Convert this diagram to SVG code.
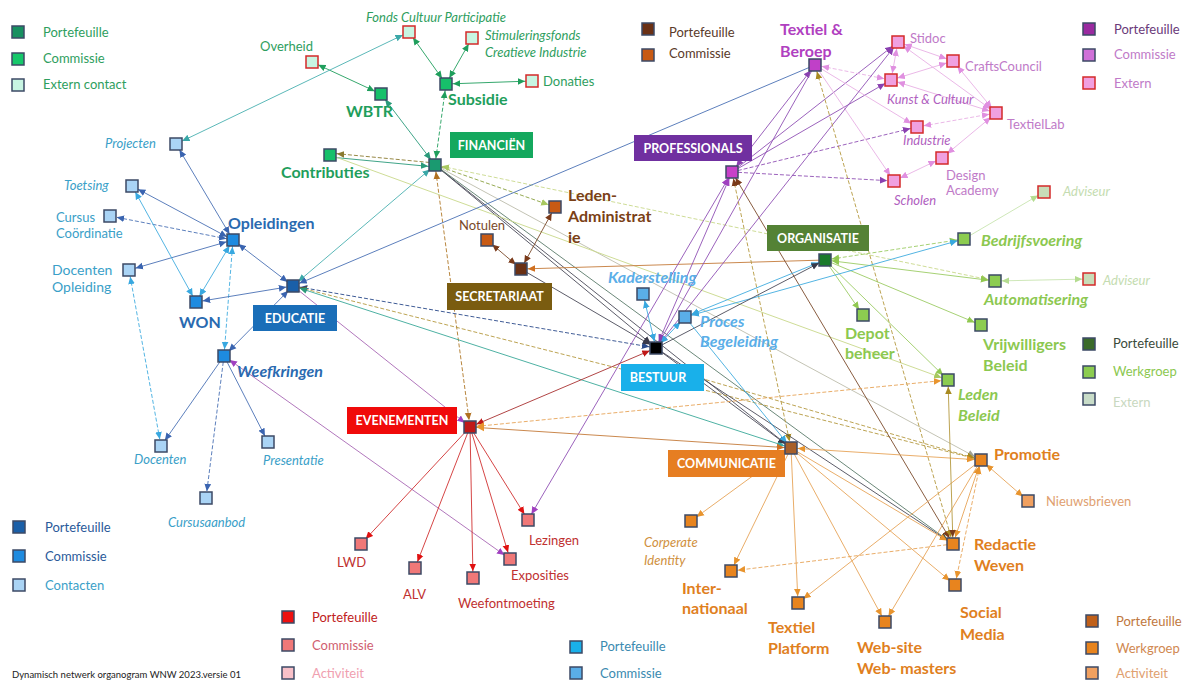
<svg xmlns="http://www.w3.org/2000/svg" width="1187" height="681" viewBox="0 0 1187 681">
<style>
text{font-family:Lato,"Liberation Sans",sans-serif}
.sq{stroke:#3c4a66;stroke-width:1.5}
.ex{stroke:#d42a2a;stroke-width:1.5}
.bt{font-weight:700;font-size:12.5px;fill:#fff;text-anchor:middle}
.lt{font-size:13px}
.b16{font-weight:700;font-size:16px}
.bi16{font-weight:700;font-style:italic;font-size:16px}
.r13{font-size:13px}
.i13{font-style:italic;font-size:13px}
.r14{font-size:14px}
#connectors line{fill:none;stroke-width:0.9}
.d{stroke-dasharray:4 2}
.g{stroke:#1f9e5c}.tg{stroke:#2a9a7a}.ol{stroke:#8a7a30}.yg{stroke:#c8d88a}.yg2{stroke:#8aa040}
.dk{stroke:#4a4a58}.br{stroke:#b07828}.tl{stroke:#48b0b0}.bl{stroke:#4a70b4}.lb{stroke:#40acdf}
.db{stroke:#2a4a8a}.pu{stroke:#9050b4}.mv{stroke:#a868b4}.pk{stroke:#e8b0e4}.lg{stroke:#9ccc64}
.lgl{stroke:#c8e4b0}.rd{stroke:#d03030}.or{stroke:#e6a458}.bn{stroke:#7a4a2a}.dr{stroke:#a83030}
.ob{stroke:#c47a3a}.gy{stroke:#bcbcac}.dg{stroke:#5a7a6a}.tgn{stroke:#3aa898}.olv{stroke:#b4983e}
</style>
<defs>
<marker id="m-g" viewBox="0 0 10 10" refX="19" refY="5" markerWidth="7.5" markerHeight="7.5" markerUnits="userSpaceOnUse" orient="auto-start-reverse"><path d="M0,0.5L10,5L0,9.5z" fill="#1f9e5c"/></marker>
<marker id="m-tg" viewBox="0 0 10 10" refX="19" refY="5" markerWidth="7.5" markerHeight="7.5" markerUnits="userSpaceOnUse" orient="auto-start-reverse"><path d="M0,0.5L10,5L0,9.5z" fill="#2a9a7a"/></marker>
<marker id="m-ol" viewBox="0 0 10 10" refX="19" refY="5" markerWidth="7.5" markerHeight="7.5" markerUnits="userSpaceOnUse" orient="auto-start-reverse"><path d="M0,0.5L10,5L0,9.5z" fill="#8a7a30"/></marker>
<marker id="m-yg" viewBox="0 0 10 10" refX="19" refY="5" markerWidth="7.5" markerHeight="7.5" markerUnits="userSpaceOnUse" orient="auto-start-reverse"><path d="M0,0.5L10,5L0,9.5z" fill="#a8c860"/></marker>
<marker id="m-dk" viewBox="0 0 10 10" refX="19" refY="5" markerWidth="7.5" markerHeight="7.5" markerUnits="userSpaceOnUse" orient="auto-start-reverse"><path d="M0,0.5L10,5L0,9.5z" fill="#3a3a4a"/></marker>
<marker id="m-br" viewBox="0 0 10 10" refX="19" refY="5" markerWidth="7.5" markerHeight="7.5" markerUnits="userSpaceOnUse" orient="auto-start-reverse"><path d="M0,0.5L10,5L0,9.5z" fill="#b07020"/></marker>
<marker id="m-tl" viewBox="0 0 10 10" refX="19" refY="5" markerWidth="7.5" markerHeight="7.5" markerUnits="userSpaceOnUse" orient="auto-start-reverse"><path d="M0,0.5L10,5L0,9.5z" fill="#3aa8a8"/></marker>
<marker id="m-bl" viewBox="0 0 10 10" refX="19" refY="5" markerWidth="7.5" markerHeight="7.5" markerUnits="userSpaceOnUse" orient="auto-start-reverse"><path d="M0,0.5L10,5L0,9.5z" fill="#3a64b0"/></marker>
<marker id="m-lb" viewBox="0 0 10 10" refX="19" refY="5" markerWidth="7.5" markerHeight="7.5" markerUnits="userSpaceOnUse" orient="auto-start-reverse"><path d="M0,0.5L10,5L0,9.5z" fill="#38a8e0"/></marker>
<marker id="m-db" viewBox="0 0 10 10" refX="19" refY="5" markerWidth="7.5" markerHeight="7.5" markerUnits="userSpaceOnUse" orient="auto-start-reverse"><path d="M0,0.5L10,5L0,9.5z" fill="#2a4a8a"/></marker>
<marker id="m-pu" viewBox="0 0 10 10" refX="19" refY="5" markerWidth="7.5" markerHeight="7.5" markerUnits="userSpaceOnUse" orient="auto-start-reverse"><path d="M0,0.5L10,5L0,9.5z" fill="#8a40b0"/></marker>
<marker id="m-mv" viewBox="0 0 10 10" refX="19" refY="5" markerWidth="7.5" markerHeight="7.5" markerUnits="userSpaceOnUse" orient="auto-start-reverse"><path d="M0,0.5L10,5L0,9.5z" fill="#a040c0"/></marker>
<marker id="m-pk" viewBox="0 0 10 10" refX="19" refY="5" markerWidth="7.5" markerHeight="7.5" markerUnits="userSpaceOnUse" orient="auto-start-reverse"><path d="M0,0.5L10,5L0,9.5z" fill="#e090e0"/></marker>
<marker id="m-lg" viewBox="0 0 10 10" refX="19" refY="5" markerWidth="7.5" markerHeight="7.5" markerUnits="userSpaceOnUse" orient="auto-start-reverse"><path d="M0,0.5L10,5L0,9.5z" fill="#90c850"/></marker>
<marker id="m-lgl" viewBox="0 0 10 10" refX="19" refY="5" markerWidth="7.5" markerHeight="7.5" markerUnits="userSpaceOnUse" orient="auto-start-reverse"><path d="M0,0.5L10,5L0,9.5z" fill="#b4dc90"/></marker>
<marker id="m-rd" viewBox="0 0 10 10" refX="19" refY="5" markerWidth="7.5" markerHeight="7.5" markerUnits="userSpaceOnUse" orient="auto-start-reverse"><path d="M0,0.5L10,5L0,9.5z" fill="#e01010"/></marker>
<marker id="m-or" viewBox="0 0 10 10" refX="19" refY="5" markerWidth="7.5" markerHeight="7.5" markerUnits="userSpaceOnUse" orient="auto-start-reverse"><path d="M0,0.5L10,5L0,9.5z" fill="#e8942e"/></marker>
<marker id="m-bn" viewBox="0 0 10 10" refX="19" refY="5" markerWidth="7.5" markerHeight="7.5" markerUnits="userSpaceOnUse" orient="auto-start-reverse"><path d="M0,0.5L10,5L0,9.5z" fill="#7a3a1a"/></marker>
<marker id="m-dr" viewBox="0 0 10 10" refX="19" refY="5" markerWidth="7.5" markerHeight="7.5" markerUnits="userSpaceOnUse" orient="auto-start-reverse"><path d="M0,0.5L10,5L0,9.5z" fill="#c01818"/></marker>
<marker id="m-ob" viewBox="0 0 10 10" refX="19" refY="5" markerWidth="7.5" markerHeight="7.5" markerUnits="userSpaceOnUse" orient="auto-start-reverse"><path d="M0,0.5L10,5L0,9.5z" fill="#d07020"/></marker>
<marker id="m-gy" viewBox="0 0 10 10" refX="19" refY="5" markerWidth="7.5" markerHeight="7.5" markerUnits="userSpaceOnUse" orient="auto-start-reverse"><path d="M0,0.5L10,5L0,9.5z" fill="#a0a090"/></marker>
<marker id="m-dg" viewBox="0 0 10 10" refX="19" refY="5" markerWidth="7.5" markerHeight="7.5" markerUnits="userSpaceOnUse" orient="auto-start-reverse"><path d="M0,0.5L10,5L0,9.5z" fill="#3a6a3a"/></marker>
<marker id="m-olv" viewBox="0 0 10 10" refX="19" refY="5" markerWidth="7.5" markerHeight="7.5" markerUnits="userSpaceOnUse" orient="auto-start-reverse"><path d="M0,0.5L10,5L0,9.5z" fill="#a88a20"/></marker>
</defs>
<rect width="1187" height="681" fill="#fff"/>

<g id="connectors">
<line class="g" x1="312" y1="62" x2="381" y2="94" marker-start="url(#m-g)" marker-end="url(#m-g)"/>
<line class="g" x1="409" y1="32" x2="446" y2="84" marker-start="url(#m-g)" marker-end="url(#m-g)"/>
<line class="g" x1="472" y1="38" x2="446" y2="84" marker-start="url(#m-g)" marker-end="url(#m-g)"/>
<line class="g" x1="446" y1="84" x2="532" y2="81" marker-start="url(#m-g)" marker-end="url(#m-g)"/>
<line class="g d" x1="446" y1="84" x2="435" y2="165" marker-start="url(#m-g)" marker-end="url(#m-g)"/>
<line class="tg" x1="381" y1="94" x2="435" y2="165" marker-start="url(#m-tg)" marker-end="url(#m-tg)"/>
<line class="ol d" x1="330" y1="153" x2="435" y2="163" marker-start="url(#m-ol)"/>
<line class="tg" x1="330" y1="157" x2="435" y2="167" marker-end="url(#m-tg)"/>
<line class="tl" x1="409" y1="32" x2="176" y2="144" marker-start="url(#m-tl)" marker-end="url(#m-tl)"/>
<line class="yg2 d" x1="435" y1="165" x2="555" y2="207" marker-end="url(#m-yg)"/>
<line class="yg d" x1="435" y1="165" x2="995" y2="281" marker-start="url(#m-yg)" marker-end="url(#m-yg)"/>
<line class="tl" x1="435" y1="165" x2="293" y2="286" marker-start="url(#m-tl)" marker-end="url(#m-tl)"/>
<line class="dk" x1="435" y1="165" x2="656" y2="348" marker-end="url(#m-dk)"/>
<line class="dk" x1="435" y1="165" x2="791" y2="448" marker-end="url(#m-dk)"/>
<line class="dg" x1="435" y1="165" x2="953" y2="544" marker-end="url(#m-dg)"/>
<line class="br d" x1="435" y1="165" x2="470" y2="427" marker-start="url(#m-br)" marker-end="url(#m-br)"/>
<line class="gy" x1="435" y1="165" x2="981" y2="460" marker-end="url(#m-gy)"/>
<line class="yg" x1="330" y1="155" x2="948" y2="380" marker-end="url(#m-yg)"/>
<line class="bl" x1="233" y1="240" x2="176" y2="144" marker-start="url(#m-bl)" marker-end="url(#m-bl)"/>
<line class="bl" x1="233" y1="240" x2="132" y2="186" marker-start="url(#m-bl)" marker-end="url(#m-bl)"/>
<line class="bl d" x1="233" y1="240" x2="110" y2="216" marker-start="url(#m-bl)" marker-end="url(#m-bl)"/>
<line class="bl" x1="233" y1="240" x2="129" y2="270" marker-start="url(#m-bl)" marker-end="url(#m-bl)"/>
<line class="lb" x1="233" y1="240" x2="196" y2="302" marker-start="url(#m-lb)" marker-end="url(#m-lb)"/>
<line class="lb" x1="132" y1="186" x2="196" y2="302" marker-start="url(#m-lb)" marker-end="url(#m-lb)"/>
<line class="lb d" x1="233" y1="240" x2="224" y2="356" marker-start="url(#m-lb)" marker-end="url(#m-lb)"/>
<line class="bl" x1="233" y1="240" x2="293" y2="286" marker-start="url(#m-bl)" marker-end="url(#m-bl)"/>
<line class="lb d" x1="129" y1="270" x2="161" y2="446" marker-start="url(#m-lb)" marker-end="url(#m-lb)"/>
<line class="bl" x1="224" y1="356" x2="161" y2="446" marker-end="url(#m-bl)"/>
<line class="bl" x1="224" y1="356" x2="268" y2="442" marker-end="url(#m-bl)"/>
<line class="bl d" x1="224" y1="356" x2="206" y2="498" marker-end="url(#m-bl)"/>
<line class="bl" x1="224" y1="356" x2="293" y2="286" marker-start="url(#m-bl)" marker-end="url(#m-bl)"/>
<line class="bl" x1="293" y1="286" x2="196" y2="302" marker-start="url(#m-bl)" marker-end="url(#m-bl)"/>
<line class="mv" x1="224" y1="356" x2="510" y2="559" marker-start="url(#m-mv)" marker-end="url(#m-mv)"/>
<line class="bl" x1="815" y1="65" x2="293" y2="286" marker-end="url(#m-bl)"/>
<line class="db d" x1="293" y1="286" x2="656" y2="348" marker-start="url(#m-db)" marker-end="url(#m-db)"/>
<line class="olv d" x1="293" y1="286" x2="981" y2="460" marker-start="url(#m-bn)" marker-end="url(#m-olv)"/>
<line class="tgn" x1="293" y1="286" x2="791" y2="448" marker-start="url(#m-tg)" marker-end="url(#m-tl)"/>
<line class="mv" x1="293" y1="286" x2="470" y2="427" marker-end="url(#m-mv)"/>
<line class="bn" x1="487" y1="240" x2="521" y2="269" marker-start="url(#m-bn)" marker-end="url(#m-bn)"/>
<line class="bn" x1="555" y1="207" x2="521" y2="269" marker-start="url(#m-bn)" marker-end="url(#m-bn)"/>
<line class="ob" x1="825" y1="260" x2="521" y2="269" marker-end="url(#m-ob)"/>
<line class="dk" x1="521" y1="269" x2="656" y2="348" marker-end="url(#m-dk)"/>
<line class="pu" x1="815" y1="65" x2="732" y2="172" marker-start="url(#m-pu)" marker-end="url(#m-pu)"/>
<line class="pu" x1="732" y1="172" x2="898" y2="42" marker-end="url(#m-pu)"/>
<line class="pu" x1="732" y1="172" x2="891" y2="80" marker-end="url(#m-pu)"/>
<line class="pu d" x1="732" y1="172" x2="917" y2="127" marker-end="url(#m-pu)"/>
<line class="pu d" x1="732" y1="172" x2="894" y2="181" marker-end="url(#m-pu)"/>
<line class="pk d" x1="815" y1="65" x2="891" y2="80" marker-start="url(#m-pk)" marker-end="url(#m-pk)"/>
<line class="pk" x1="815" y1="65" x2="917" y2="127" marker-end="url(#m-pk)"/>
<line class="pk" x1="815" y1="65" x2="894" y2="181" marker-end="url(#m-pk)"/>
<line class="pk" x1="898" y1="42" x2="891" y2="80" marker-start="url(#m-pk)" marker-end="url(#m-pk)"/>
<line class="pk" x1="898" y1="42" x2="953" y2="61" marker-start="url(#m-pk)" marker-end="url(#m-pk)"/>
<line class="pk" x1="898" y1="42" x2="996" y2="113" marker-start="url(#m-pk)" marker-end="url(#m-pk)"/>
<line class="pk" x1="953" y1="61" x2="891" y2="80" marker-start="url(#m-pk)" marker-end="url(#m-pk)"/>
<line class="pk" x1="953" y1="61" x2="996" y2="113" marker-start="url(#m-pk)" marker-end="url(#m-pk)"/>
<line class="pk" x1="891" y1="80" x2="996" y2="113" marker-start="url(#m-pk)" marker-end="url(#m-pk)"/>
<line class="pk d" x1="917" y1="127" x2="996" y2="113" marker-start="url(#m-pk)" marker-end="url(#m-pk)"/>
<line class="pk" x1="996" y1="113" x2="942" y2="158" marker-start="url(#m-pk)" marker-end="url(#m-pk)"/>
<line class="pk" x1="942" y1="158" x2="894" y2="181" marker-start="url(#m-pk)" marker-end="url(#m-pk)"/>
<line class="pu" x1="815" y1="65" x2="656" y2="348" marker-end="url(#m-pu)"/>
<line class="pu" x1="898" y1="42" x2="656" y2="348" marker-start="url(#m-pu)" marker-end="url(#m-pu)"/>
<line class="pu" x1="732" y1="172" x2="656" y2="348" marker-start="url(#m-mv)" marker-end="url(#m-pu)"/>
<line class="pu" x1="732" y1="172" x2="528" y2="520" marker-start="url(#m-mv)" marker-end="url(#m-mv)"/>
<line class="olv d" x1="732" y1="172" x2="791" y2="448" marker-start="url(#m-bn)" marker-end="url(#m-olv)"/>
<line class="bn" x1="732" y1="172" x2="953" y2="544" marker-start="url(#m-bn)" marker-end="url(#m-bn)"/>
<line class="olv d" x1="815" y1="65" x2="953" y2="544" marker-start="url(#m-olv)" marker-end="url(#m-olv)"/>
<line class="lg d" x1="825" y1="260" x2="964" y2="239" marker-start="url(#m-lg)" marker-end="url(#m-lg)"/>
<line class="lg" x1="825" y1="260" x2="995" y2="281" marker-start="url(#m-lg)" marker-end="url(#m-lg)"/>
<line class="lg" x1="825" y1="260" x2="863" y2="315" marker-end="url(#m-lg)"/>
<line class="lg" x1="825" y1="260" x2="981" y2="325" marker-end="url(#m-lg)"/>
<line class="lg" x1="825" y1="260" x2="948" y2="380" marker-end="url(#m-lg)"/>
<line class="lgl" x1="964" y1="239" x2="1044" y2="192" marker-end="url(#m-lgl)"/>
<line class="lgl" x1="995" y1="281" x2="1089" y2="279" marker-start="url(#m-lgl)" marker-end="url(#m-lgl)"/>
<line class="lb" x1="685" y1="317" x2="825" y2="260" marker-start="url(#m-lb)" marker-end="url(#m-lb)"/>
<line class="lb" x1="685" y1="317" x2="964" y2="239" marker-start="url(#m-lb)" marker-end="url(#m-lb)"/>
<line class="dk" x1="656" y1="348" x2="825" y2="260" marker-end="url(#m-dk)"/>
<line class="lb" x1="643" y1="294" x2="656" y2="348" marker-start="url(#m-lb)" marker-end="url(#m-lb)"/>
<line class="lb" x1="685" y1="317" x2="656" y2="348" marker-start="url(#m-lb)" marker-end="url(#m-lb)"/>
<line class="dr" x1="656" y1="348" x2="470" y2="427" marker-start="url(#m-dr)" marker-end="url(#m-dr)"/>
<line class="dk" x1="656" y1="348" x2="791" y2="448" marker-end="url(#m-dk)"/>
<line class="dk" x1="656" y1="348" x2="953" y2="544" marker-end="url(#m-dk)"/>
<line class="olv d" x1="700" y1="378" x2="981" y2="460" marker-end="url(#m-olv)"/>
<line class="lb" x1="685" y1="317" x2="791" y2="448" marker-end="url(#m-lb)"/>
<line class="rd" x1="470" y1="427" x2="528" y2="520" marker-end="url(#m-rd)"/>
<line class="rd" x1="470" y1="427" x2="361" y2="544" marker-end="url(#m-rd)"/>
<line class="rd" x1="470" y1="427" x2="415" y2="568" marker-end="url(#m-rd)"/>
<line class="rd" x1="470" y1="427" x2="510" y2="559" marker-end="url(#m-rd)"/>
<line class="rd" x1="470" y1="427" x2="473" y2="578" marker-end="url(#m-rd)"/>
<line class="or d" x1="470" y1="427" x2="948" y2="380" marker-start="url(#m-or)" marker-end="url(#m-or)"/>
<line class="ob" x1="470" y1="427" x2="791" y2="448" marker-start="url(#m-or)" marker-end="url(#m-ob)"/>
<line class="or" x1="791" y1="448" x2="691" y2="521" marker-end="url(#m-or)"/>
<line class="or" x1="791" y1="448" x2="731" y2="571" marker-end="url(#m-or)"/>
<line class="or" x1="791" y1="448" x2="798" y2="603" marker-end="url(#m-or)"/>
<line class="or" x1="791" y1="448" x2="885" y2="622" marker-end="url(#m-or)"/>
<line class="or" x1="791" y1="448" x2="955" y2="585" marker-end="url(#m-or)"/>
<line class="or" x1="791" y1="448" x2="953" y2="544" marker-end="url(#m-or)"/>
<line class="or" x1="791" y1="448" x2="981" y2="460" marker-start="url(#m-or)" marker-end="url(#m-or)"/>
<line class="or" x1="981" y1="460" x2="1028" y2="501" marker-start="url(#m-or)" marker-end="url(#m-or)"/>
<line class="or" x1="981" y1="460" x2="953" y2="544" marker-start="url(#m-or)" marker-end="url(#m-or)"/>
<line class="or d" x1="981" y1="460" x2="955" y2="585" marker-start="url(#m-or)" marker-end="url(#m-or)"/>
<line class="or" x1="981" y1="460" x2="798" y2="603" marker-end="url(#m-or)"/>
<line class="or" x1="981" y1="460" x2="885" y2="622" marker-end="url(#m-or)"/>
<line class="olv" x1="948" y1="380" x2="953" y2="544" marker-start="url(#m-olv)" marker-end="url(#m-bn)"/>
<line class="or d" x1="953" y1="544" x2="731" y2="571" marker-end="url(#m-or)"/>
</g>

<g id="legend-financien">
<rect x="12" y="26" width="12" height="12" fill="#179060" class="sq"/><text x="43" y="37" class="lt" fill="#2e9e5e">Portefeuille</text>
<rect x="12" y="53" width="12" height="12" fill="#16c86a" class="sq"/><text x="43" y="63" class="lt" fill="#2e9e5e">Commissie</text>
<rect x="12" y="79" width="12" height="12" fill="#c8f5e2" class="sq"/><text x="43" y="89" class="lt" fill="#2e9e5e">Extern contact</text>
</g>
<g id="legend-secretariaat">
<rect x="642" y="23" width="12" height="12" fill="#6a3014" class="sq"/><text x="669" y="37" class="lt" fill="#5a3a2a">Portefeuille</text>
<rect x="642" y="49" width="12" height="12" fill="#c85a14" class="sq"/><text x="669" y="58" class="lt" fill="#5a3a2a">Commissie</text>
</g>
<g id="legend-professionals">
<rect x="1083" y="23" width="12" height="12" fill="#9a2aa0" class="sq"/><text x="1114" y="34" class="lt" fill="#6a3a7a">Portefeuille</text>
<rect x="1083" y="49" width="12" height="12" fill="#d070d8" class="sq"/><text x="1114" y="59" class="lt" fill="#c07ac8">Commissie</text>
<rect x="1083" y="77" width="12" height="12" fill="#f0a0e0" class="ex"/><text x="1114" y="88" class="lt" fill="#c07ac8">Extern</text>
</g>
<g id="legend-organisatie">
<rect x="1083" y="338" width="12" height="12" fill="#3a6a2a" class="sq"/><text x="1113" y="348" class="lt" fill="#3a4a3a">Portefeuille</text>
<rect x="1083" y="366" width="12" height="12" fill="#8ccc50" class="sq"/><text x="1113" y="376" class="lt" fill="#8cc850">Werkgroep</text>
<rect x="1083" y="393" width="12" height="12" fill="#c8dcc8" class="sq"/><text x="1113" y="407" class="lt" fill="#c8d8c0">Extern</text>
</g>
<g id="legend-educatie">
<rect x="13" y="521" width="12" height="12" fill="#1a5fa8" class="sq"/><text x="45" y="532" class="lt" fill="#2a5a9a">Portefeuille</text>
<rect x="13" y="550" width="12" height="12" fill="#1e8be0" class="sq"/><text x="45" y="561" class="lt" fill="#2a5a9a">Commissie</text>
<rect x="13" y="579" width="12" height="12" fill="#aad4f5" class="sq"/><text x="45" y="590" class="lt" fill="#3aa0c8">Contacten</text>
</g>
<g id="legend-evenementen">
<rect x="282" y="611" width="12" height="12" fill="#ee1010" class="sq"/><text x="312" y="622" class="lt" fill="#c02020">Portefeuille</text>
<rect x="282" y="639" width="12" height="12" fill="#f07878" class="sq"/><text x="312" y="650" class="lt" fill="#d06070">Commissie</text>
<rect x="282" y="667" width="12" height="12" fill="#f8c0c8" class="sq"/><text x="312" y="678" class="lt" fill="#f0a0b0">Activiteit</text>
</g>
<g id="legend-bestuur">
<rect x="570" y="641" width="12" height="12" fill="#19b0ea" class="sq"/><text x="600" y="651" class="lt" fill="#3a8ab0">Portefeuille</text>
<rect x="570" y="667" width="12" height="12" fill="#5aaee8" class="sq"/><text x="600" y="678" class="lt" fill="#3a8ab0">Commissie</text>
</g>
<g id="legend-communicatie">
<rect x="1086" y="615" width="12" height="12" fill="#c0601a" class="sq"/><text x="1116" y="626" class="lt" fill="#c07840">Portefeuille</text>
<rect x="1086" y="642" width="12" height="12" fill="#e8841e" class="sq"/><text x="1116" y="653" class="lt" fill="#d08850">Werkgroep</text>
<rect x="1086" y="667" width="12" height="12" fill="#f0a060" class="sq"/><text x="1116" y="678" class="lt" fill="#e0a070">Activiteit</text>
</g>

<g id="box-financien"><rect x="450" y="132" width="83" height="26" fill="#14a85e"/><text x="491.5" y="149.5" class="bt">FINANCIËN</text></g>
<g id="n-financien"><rect x="429" y="159" width="12" height="12" fill="#1a9a70" class="sq"/></g>
<g id="n-overheid"><rect x="306" y="56" width="12" height="12" fill="#c8f5e2" class="ex"/><text x="260" y="51" class="r13" fill="#2e9e5e">Overheid</text></g>
<g id="n-fonds"><rect x="403" y="26" width="12" height="12" fill="#c8f5e2" class="ex"/><text x="366" y="22" class="i13" fill="#2e9e5e" font-size="12.5">Fonds Cultuur Participatie</text></g>
<g id="n-stim"><rect x="466" y="32" width="12" height="12" fill="#c8f5e2" class="ex"/><text x="485" y="40" class="i13" fill="#2e9e5e" font-size="12.5">Stimuleringsfonds</text><text x="485" y="57" class="i13" fill="#2e9e5e" font-size="12.5">Creatieve Industrie</text></g>
<g id="n-donaties"><rect x="526" y="75" width="12" height="12" fill="#c8f5e2" class="ex"/><text x="543" y="86" class="r13" fill="#2e9e5e">Donaties</text></g>
<g id="n-subsidie"><rect x="440" y="78" width="12" height="12" fill="#16c06a" class="sq"/><text x="448" y="105" class="b16" fill="#1f9e5c">Subsidie</text></g>
<g id="n-wbtr"><rect x="375" y="88" width="12" height="12" fill="#16c06a" class="sq"/><text x="346" y="117" class="b16" font-size="17" fill="#1f9e5c">WBTR</text></g>
<g id="n-contributies"><rect x="324" y="149" width="12" height="12" fill="#16c06a" class="sq"/><text x="281" y="178" class="b16" fill="#1f9e5c">Contributies</text></g>

<g id="box-educatie"><rect x="253" y="305" width="84" height="26" fill="#1a6eb8"/><text x="295" y="322.5" class="bt">EDUCATIE</text></g>
<g id="n-educatie"><rect x="287" y="280" width="12" height="12" fill="#1a5fa8" class="sq"/></g>
<g id="n-projecten"><rect x="170" y="138" width="12" height="12" fill="#aad4f5" class="sq"/><text x="105" y="148" class="i13" font-size="13.5" fill="#3aa0c8">Projecten</text></g>
<g id="n-toetsing"><rect x="126" y="180" width="12" height="12" fill="#aad4f5" class="sq"/><text x="64" y="190" class="i13" font-size="13.5" fill="#3aa0c8">Toetsing</text></g>
<g id="n-cursus"><rect x="104" y="210" width="12" height="12" fill="#aad4f5" class="sq"/><text x="56" y="222" class="r13" fill="#3aa0c8">Cursus</text><text x="56" y="238" class="r13" fill="#3aa0c8">Coördinatie</text></g>
<g id="n-opleidingen"><rect x="227" y="234" width="12" height="12" fill="#1e8be0" class="sq"/><text x="228" y="229" class="b16" fill="#2a6ab0">Opleidingen</text></g>
<g id="n-docopl"><rect x="123" y="264" width="12" height="12" fill="#aad4f5" class="sq"/><text x="52" y="275" class="r14" fill="#3aa0c8">Docenten</text><text x="52" y="292" class="r14" fill="#3aa0c8">Opleiding</text></g>
<g id="n-won"><rect x="190" y="296" width="12" height="12" fill="#1e8be0" class="sq"/><text x="179" y="328" class="b16" font-size="17" fill="#2a6ab0">WON</text></g>
<g id="n-weefkringen"><rect x="218" y="350" width="12" height="12" fill="#1e8be0" class="sq"/><text x="237" y="377" class="bi16" fill="#2a6ab0">Weefkringen</text></g>
<g id="n-docenten"><rect x="155" y="440" width="12" height="12" fill="#aad4f5" class="sq"/><text x="134" y="464" class="i13" fill="#3aa0c8">Docenten</text></g>
<g id="n-presentatie"><rect x="262" y="436" width="12" height="12" fill="#aad4f5" class="sq"/><text x="263" y="465" class="i13" fill="#3aa0c8">Presentatie</text></g>
<g id="n-cursusaanbod"><rect x="200" y="492" width="12" height="12" fill="#aad4f5" class="sq"/><text x="168" y="527" class="i13" font-size="13.5" fill="#3aa0c8">Cursusaanbod</text></g>

<g id="box-secretariaat"><rect x="447" y="283" width="105" height="27" fill="#7a5c10"/><text x="499.5" y="301" class="bt">SECRETARIAAT</text></g>
<g id="n-secretariaat"><rect x="515" y="263" width="12" height="12" fill="#6a3014" class="sq"/></g>
<g id="n-leden"><rect x="549" y="201" width="12" height="12" fill="#c85a14" class="sq"/><text x="568" y="201" class="b16" fill="#7a4016">Leden-</text><text x="568" y="222" class="b16" fill="#7a4016">Administrat</text><text x="568" y="243" class="b16" fill="#7a4016">ie</text></g>
<g id="n-notulen"><rect x="481" y="234" width="12" height="12" fill="#c85a14" class="sq"/><text x="459" y="230" class="r13" fill="#7a4a2a">Notulen</text></g>

<g id="box-professionals"><rect x="634" y="135" width="118" height="26" fill="#7030a0"/><text x="693" y="152.5" class="bt">PROFESSIONALS</text></g>
<g id="n-professionals"><rect x="726" y="166" width="12" height="12" fill="#c840c8" class="sq"/></g>
<g id="n-textiel"><rect x="809" y="59" width="12" height="12" fill="#c040c8" class="sq"/><text x="780" y="35" class="b16" fill="#b040c0">Textiel &amp;</text><text x="780" y="57" class="b16" fill="#b040c0">Beroep</text></g>
<g id="n-stidoc"><rect x="892" y="36" width="12" height="12" fill="#f0a0e0" class="ex"/><text x="910" y="43" class="r13" fill="#c07ac8">Stidoc</text></g>
<g id="n-crafts"><rect x="947" y="55" width="12" height="12" fill="#f0a0e0" class="ex"/><text x="965" y="71" class="r13" fill="#c07ac8">CraftsCouncil</text></g>
<g id="n-kunst"><rect x="885" y="74" width="12" height="12" fill="#f0a0e0" class="ex"/><text x="887" y="104" class="i13" fill="#b060c0">Kunst &amp; Cultuur</text></g>
<g id="n-textiellab"><rect x="990" y="107" width="12" height="12" fill="#f0a0e0" class="ex"/><text x="1007" y="129" class="r13" fill="#c07ac8">TextielLab</text></g>
<g id="n-industrie"><rect x="911" y="121" width="12" height="12" fill="#f0a0e0" class="ex"/><text x="903" y="145" class="i13" fill="#b060c0">Industrie</text></g>
<g id="n-design"><rect x="936" y="152" width="12" height="12" fill="#f0a0e0" class="ex"/><text x="946" y="180" class="r13" fill="#c07ac8">Design</text><text x="946" y="195" class="r13" fill="#c07ac8">Academy</text></g>
<g id="n-scholen"><rect x="888" y="175" width="12" height="12" fill="#f0a0e0" class="ex"/><text x="894" y="205" class="i13" fill="#b060c0">Scholen</text></g>

<g id="box-organisatie"><rect x="767" y="225" width="102" height="26" fill="#548235"/><text x="818" y="242.5" class="bt">ORGANISATIE</text></g>
<g id="n-organisatie"><rect x="819" y="254" width="12" height="12" fill="#1a7a2a" class="sq"/></g>
<g id="n-adviseur1"><rect x="1038" y="186" width="12" height="12" fill="#c8dcb8" class="ex"/><text x="1063" y="196" class="i13" fill="#c4dcb0">Adviseur</text></g>
<g id="n-bedrijfsvoering"><rect x="958" y="233" width="12" height="12" fill="#8ccc50" class="sq"/><text x="981" y="246" class="bi16" fill="#8cc850">Bedrijfsvoering</text></g>
<g id="n-automatisering"><rect x="989" y="275" width="12" height="12" fill="#8ccc50" class="sq"/><text x="984" y="305" class="bi16" fill="#8cc850">Automatisering</text></g>
<g id="n-adviseur2"><rect x="1083" y="273" width="12" height="12" fill="#c8dcb8" class="ex"/><text x="1103" y="285" class="i13" fill="#c4dcb0">Adviseur</text></g>
<g id="n-depot"><rect x="857" y="309" width="12" height="12" fill="#8ccc50" class="sq"/><text x="845" y="339" class="b16" fill="#8cc850">Depot</text><text x="845" y="359" class="b16" fill="#8cc850">beheer</text></g>
<g id="n-vrijwilligers"><rect x="975" y="319" width="12" height="12" fill="#8ccc50" class="sq"/><text x="983" y="350" class="b16" fill="#8cc850">Vrijwilligers</text><text x="983" y="371" class="b16" fill="#8cc850">Beleid</text></g>
<g id="n-ledenbeleid"><rect x="942" y="374" width="12" height="12" fill="#8ccc50" class="sq"/><text x="958" y="400" class="bi16" fill="#8cc850">Leden</text><text x="958" y="421" class="bi16" fill="#8cc850">Beleid</text></g>

<g id="box-bestuur"><rect x="621" y="364" width="83" height="27" fill="#19b0ea"/><text x="658" y="382" class="bt">BESTUUR</text></g>
<g id="n-bestuur"><rect x="650" y="342" width="12" height="12" fill="#000" class="sq"/></g>
<g id="n-kaderstelling"><rect x="637" y="288" width="12" height="12" fill="#5aaee8" class="sq"/><text x="608" y="283" class="bi16" fill="#5aaee8">Kaderstelling</text></g>
<g id="n-proces"><rect x="679" y="311" width="12" height="12" fill="#5aaee8" class="sq"/><text x="700" y="327" class="bi16" fill="#5aaee8">Proces</text><text x="700" y="347" class="bi16" fill="#5aaee8">Begeleiding</text></g>

<g id="box-evenementen"><rect x="347" y="407" width="110" height="27" fill="#f00a0a"/><text x="402" y="425" class="bt">EVENEMENTEN</text></g>
<g id="n-evenementen"><rect x="464" y="421" width="12" height="12" fill="#c01818" class="sq"/></g>
<g id="n-lezingen"><rect x="522" y="514" width="12" height="12" fill="#f07878" class="sq"/><text x="529" y="545" class="r13" fill="#c03030">Lezingen</text></g>
<g id="n-lwd"><rect x="355" y="538" width="12" height="12" fill="#f07878" class="sq"/><text x="337" y="567" class="r13" fill="#c03030">LWD</text></g>
<g id="n-alv"><rect x="409" y="562" width="12" height="12" fill="#f07878" class="sq"/><text x="403" y="599" class="r13" fill="#c03030">ALV</text></g>
<g id="n-exposities"><rect x="504" y="553" width="12" height="12" fill="#f07878" class="sq"/><text x="511" y="580" class="r13" fill="#c03030">Exposities</text></g>
<g id="n-weefontmoeting"><rect x="467" y="572" width="12" height="12" fill="#f07878" class="sq"/><text x="458" y="608" class="r13" fill="#c03030">Weefontmoeting</text></g>

<g id="box-communicatie"><rect x="668" y="450" width="117" height="27" fill="#e67e22"/><text x="726.5" y="468" class="bt">COMMUNICATIE</text></g>
<g id="n-communicatie"><rect x="785" y="442" width="12" height="12" fill="#a8602a" class="sq"/></g>
<g id="n-promotie"><rect x="975" y="454" width="12" height="12" fill="#e8841e" class="sq"/><text x="994" y="460" class="b16" fill="#e0801e">Promotie</text></g>
<g id="n-nieuwsbrieven"><rect x="1022" y="495" width="12" height="12" fill="#f0a060" class="sq"/><text x="1046" y="506" class="r13" fill="#e0a070">Nieuwsbrieven</text></g>
<g id="n-corperate"><rect x="685" y="515" width="12" height="12" fill="#e8841e" class="sq"/><text x="644" y="547" class="i13" fill="#d09040">Corperate</text><text x="644" y="565" class="i13" fill="#d09040">Identity</text></g>
<g id="n-redactie"><rect x="947" y="538" width="12" height="12" fill="#e8841e" class="sq"/><text x="974" y="550" class="b16" fill="#e0801e">Redactie</text><text x="974" y="571" class="b16" fill="#e0801e">Weven</text></g>
<g id="n-internationaal"><rect x="725" y="565" width="12" height="12" fill="#e8841e" class="sq"/><text x="682" y="594" class="b16" fill="#e0801e">Inter-</text><text x="682" y="614" class="b16" fill="#e0801e">nationaal</text></g>
<g id="n-social"><rect x="949" y="579" width="12" height="12" fill="#e8841e" class="sq"/><text x="960" y="618" class="b16" fill="#e0801e">Social</text><text x="960" y="640" class="b16" fill="#e0801e">Media</text></g>
<g id="n-textielplatform"><rect x="792" y="597" width="12" height="12" fill="#e8841e" class="sq"/><text x="768" y="633" class="b16" fill="#e0801e">Textiel</text><text x="768" y="654" class="b16" fill="#e0801e">Platform</text></g>
<g id="n-website"><rect x="879" y="616" width="12" height="12" fill="#e8841e" class="sq"/><text x="857" y="653" class="b16" fill="#e0801e">Web-site</text><text x="857" y="674" class="b16" fill="#e0801e">Web- masters</text></g>

<text x="12" y="678" font-size="9.5" fill="#222">Dynamisch netwerk organogram WNW 2023.versie 01</text>
</svg>
